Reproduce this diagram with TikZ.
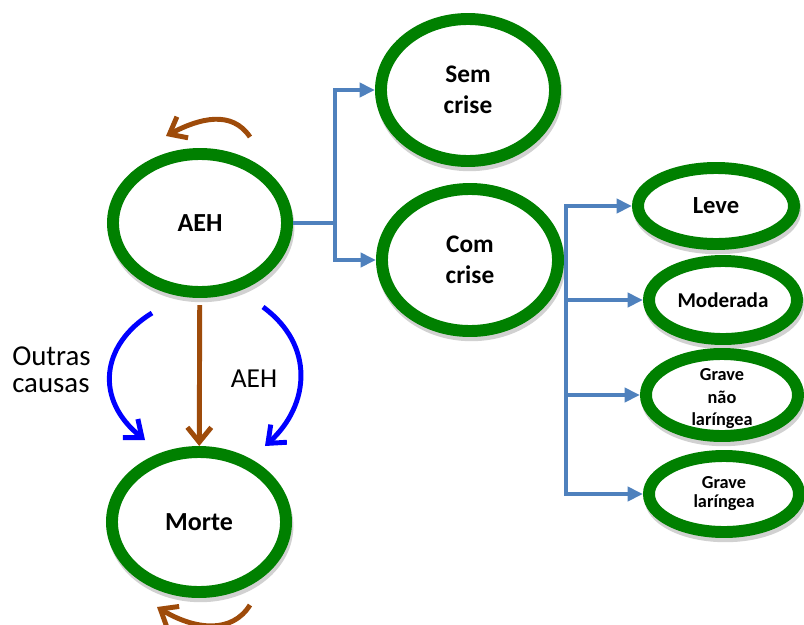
\documentclass[tikz,border=0pt]{standalone}
\usepackage{fontspec}
\setmainfont{Carlito}
\usetikzlibrary{shapes.geometric,arrows.meta,shadows}
\definecolor{ringgreen}{RGB}{0,128,0}
\definecolor{treeblue}{RGB}{79,129,189}
\definecolor{loopbrown}{RGB}{158,75,10}

\begin{document}
\begin{tikzpicture}[x=0.025cm,y=-0.025cm,>={Triangle[length=11pt,width=10pt]}]
  \tikzstyle{ring}=[ellipse,draw=ringgreen,line width=8.5pt,fill=white,inner sep=0pt,align=center,
    general shadow={draw=black,line width=8.5pt,opacity=0.18,shadow xshift=1pt,shadow yshift=-3pt}]
  \tikzstyle{branch}=[treeblue,line width=3.5pt]
  \tikzstyle{flow}=[line width=3.5pt,-{Straight Barb[length=10.5pt,width=17pt]}]
  \tikzstyle{note}=[inner sep=0pt,align=left,font=\fontsize{20.5}{19.5}\selectfont]

  \useasboundingbox (0,0) rectangle (804,625);

  % estados
  \node[ring,minimum width=4.35cm,minimum height=3.45cm,font=\bfseries\fontsize{18.5}{22}\selectfont] (AEH) at (200,223) {AEH};
  \node[ring,minimum width=4.35cm,minimum height=3.5cm,font=\bfseries\fontsize{18.5}{22}\selectfont] (Morte) at (199,522) {Morte};
  \node[ring,minimum width=4.35cm,minimum height=3.55cm,font=\bfseries\fontsize{18}{22}\selectfont] (Sem) at (468,90) {Sem\\crise};
  \node[ring,minimum width=4.4cm,minimum height=3.55cm,font=\bfseries\fontsize{18}{22}\selectfont] (Com) at (470,260) {Com\\crise};
  \node[ring,minimum width=3.9cm,minimum height=1.9cm,font=\bfseries\fontsize{17.5}{21}\selectfont] (Leve) at (716,206) {Leve};
  \node[ring,minimum width=3.7cm,minimum height=1.95cm,font=\bfseries\fontsize{15}{18}\selectfont] (Moderada) at (723,300) {Moderada};
  \node[ring,minimum width=3.8cm,minimum height=2.05cm] (GraveN) at (722,395) {};
  \node[font=\bfseries\fontsize{13}{16}\selectfont,align=center] (GraveNtxt) at (722,399) {Grave\\não\\laríngea};
  \node[ring,minimum width=3.75cm,minimum height=1.9cm,font=\bfseries\fontsize{13}{13.5}\selectfont] (GraveL) at (724,494) {Grave\\laríngea};

  % ramos
  \coordinate (aehfork) at (335,223);
  \coordinate (comfork) at (566,260);
  \draw[branch] (AEH.east) -- (aehfork);
  \draw[branch,->] (aehfork) |- (Sem.west);
  \draw[branch,->] (aehfork) |- (Com.west);
  \draw[branch] (Com.east) -- (comfork);
  \foreach \leaf in {Leve,Moderada,GraveN,GraveL}
    \draw[branch,->] (comfork) |- (\leaf.west);

  % transicoes
  \draw[flow,loopbrown,shorten <=5pt] (AEH) -- (Morte);
  \coordinate (causeL1) at (152,313);
  \coordinate (causeL2) at (145,440);
  \draw[flow,blue] (causeL1) .. controls (100,345) and (95,400) .. (causeL2);
  \coordinate (causeR1) at (263,307);
  \coordinate (causeR2) at (265,446);
  \draw[flow,blue] (causeR1) .. controls (315,345) and (310,405) .. (causeR2);
  \coordinate (aehloop1) at (250,137);
  \coordinate (aehloop2) at (166,136);
  \draw[flow,loopbrown] (aehloop1) .. controls (232,110) and (200,118) .. (aehloop2);
  \coordinate (morteloop1) at (250,605);
  \coordinate (morteloop2) at (157,607);
  \draw[flow,loopbrown] (morteloop1) .. controls (232,634) and (195,630) .. (morteloop2);

  \node[note,anchor=west] (outras) at (12,370) {Outras\\causas};
  \node[note,font=\fontsize{19.5}{22}\selectfont] (aehlabel) at (254,379) {AEH};
\end{tikzpicture}
\end{document}
